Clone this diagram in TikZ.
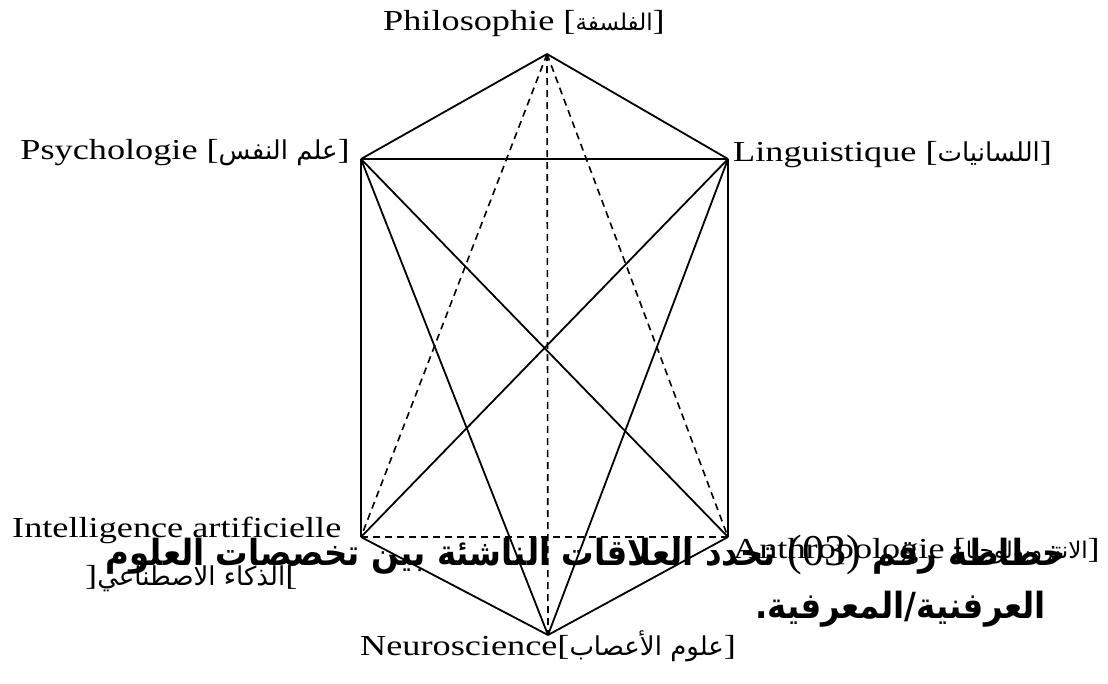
\documentclass[tikz,border=0pt]{standalone}
\usepackage{fontspec}
\setmainfont[FakeStretch=1.25]{Liberation Serif}
\newfontfamily\arabicfont[Script=Arabic]{DejaVu Sans}
\newfontfamily\capfont[Script=Arabic,FakeStretch=0.9]{DejaVu Sans}
\newfontfamily\digitfont{Liberation Serif}
\TeXXeTstate=1
\begin{document}
\begin{tikzpicture}[x=1pt,y=-1pt,
  edge/.style={line width=1.8pt},
  dashededge/.style={line width=1.6pt,dash pattern=on 7pt off 5pt},
  lbl/.style={inner sep=0pt,font=\fontsize{29}{31}\selectfont},
  captxt/.style={inner sep=0pt,font=\capfont\bfseries\fontsize{36}{40}\selectfont}]
\useasboundingbox (0,0) rectangle (1108,683);
\newcommand\arlbl{\arabicfont\fontsize{23}{26}\selectfont}
\newcommand\arlblb{\arabicfont\fontsize{26}{28}\selectfont}
\coordinate (phi) at (547,54);
\coordinate (psy) at (361,159);
\coordinate (lin) at (728,159);
\coordinate (ia) at (361,537);
\coordinate (ant) at (728,537);
\coordinate (neu) at (548,635);
% solid edges
\draw[edge] (phi) -- (psy);
\draw[edge] (phi) -- (lin);
\draw[edge] (psy) -- (lin);
\draw[edge] (psy) -- (ia);
\draw[edge] (lin) -- (ant);
\draw[edge] (psy) -- (ant);
\draw[edge] (lin) -- (ia);
\draw[edge] (psy) -- (neu);
\draw[edge] (lin) -- (neu);
\draw[edge] (ia) -- (neu);
\draw[edge] (ant) -- (neu);
% dashed edges
\draw[dashededge] (phi) -- (ia);
\draw[dashededge] (phi) -- (ant);
\draw[dashededge] (phi) -- (neu);
\draw[dashededge] (ia) -- (ant);
% labels
\node[lbl,anchor=base west] (lphi) at (383,30) {Philosophie [{\arlbl\beginR الفلسفة\endR}]};
\node[lbl,anchor=base east] (lpsy) at (350,159) {Psychologie [{\arlblb\beginR علم النفس\endR}]};
\node[lbl,anchor=base west] (llin) at (733,161) {Linguistique [{\arlblb\beginR اللسانيات\endR}]};
\node[lbl,anchor=base west] (lia) at (12,537) {Intelligence artificielle};
\node[lbl,anchor=base west] (lia2) at (85,585) {]{\arlblb\beginR الذكاء الاصطناعي\endR}[};
\node[lbl,anchor=base east] (lant) at (1100,558) {Anthropologie [{\arlbl\beginR الانتروبولوجيا\endR}]};
\node[lbl,anchor=base west] (lneu) at (360,655) {Neuroscience[{\arlblb\beginR علوم الأعصاب\endR}]};
% caption
\node[captxt,anchor=base east] (cap1) at (1066,565) {\beginR خطاطة رقم \beginL{\digitfont\mdseries\fontsize{44}{46}\selectfont(03)}\endL{} تحدد العلاقات الناشئة بين تخصصات العلوم\endR};
\node[captxt,anchor=base east] (cap2) at (1046,618) {\beginR العرفنية/المعرفية.\endR};
\end{tikzpicture}
\end{document}
